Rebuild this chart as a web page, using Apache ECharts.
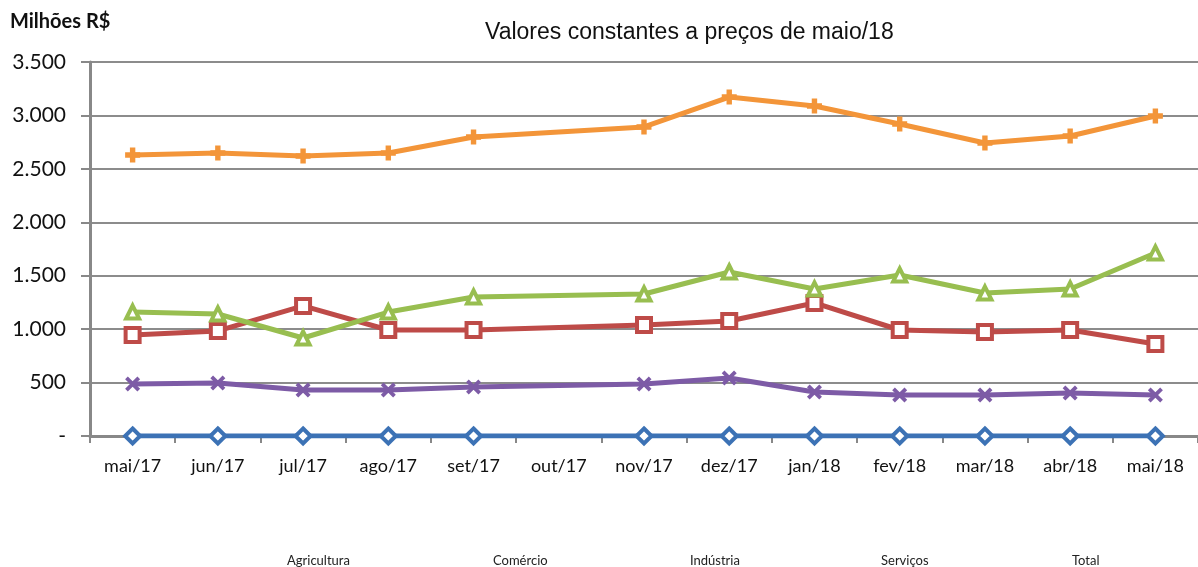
<!DOCTYPE html>
<html><head><meta charset="utf-8">
<script src="https://cdn.jsdelivr.net/npm/echarts@6/dist/echarts.min.js"></script>
<style>html,body{margin:0;padding:0;background:#fff}#c{width:1198px;height:567px}</style>
</head><body><div id="c"></div>
<script>
var categories = ['mai/17','jun/17','jul/17','ago/17','set/17','out/17','nov/17','dez/17','jan/18','fev/18','mar/18','abr/18','mai/18'];
var agricultura = [0,0,0,0,0,null,0,0,0,0,0,0,0];
var comercio = [945,983,1217,992,992,null,1039,1076,1245,992,973,992,861];
var industria = [1160,1142,917,1160,1301,null,1329,1535,1376,1507,1338,1376,1713];
var servicos = [487,496,430,430,459,null,487,543,412,384,384,402,384];
var total = [2630,2648,2620,2648,2798,null,2892,3172,3088,2920,2742,2807,2995];
var seriesNames = ['Agricultura','Comércio','Indústria','Serviços','Total'];

var FONT = 'Lato';
function fmt(v){ if(v===0) return '-'; var s=String(v); return s.replace(/\B(?=(\d{3})+(?!\d))/g,'.'); }
var plusPath = 'path://M3.2,0H6.8V3.2H10V6.8H6.8V10H3.2V6.8H0V3.2H3.2Z';
var xPath = 'path://M1.8,0 L5,3.2 L8.2,0 L10,1.8 L6.8,5 L10,8.2 L8.2,10 L5,6.8 L1.8,10 L0,8.2 L3.2,5 L0,1.8Z';

function mk(name, data, color, symbol, size, hollow){
  return {
    name:name, type:'line', data:data, connectNulls:true,
    symbol:symbol, symbolSize:size,
    lineStyle:{color:color, width:5},
    itemStyle: hollow ? {color:'#fff', borderColor:color, borderWidth:4} : {color:color},
    emphasis:{disabled:true}, z: 2
  };
}
var legendX = [281, 487, 684, 876, 1067];
var legends = seriesNames.map(function(n,i){
  return {data:[n], left:legendX[i], top:549, itemWidth:0, itemHeight:0, itemGap:0,
    icon:'rect', itemStyle:{opacity:0}, lineStyle:{opacity:0},
    textStyle:{fontFamily:FONT, fontSize:13, color:'#222', padding:[0,0,0,-5]}, selectedMode:false};
});

var chart = echarts.init(document.getElementById('c'), null, {renderer:'canvas'});
chart.setOption({
  animation:false,
  title:{text:'Valores constantes a preços de maio/18', left:480, top:16,
    textStyle:{fontFamily:'Liberation Sans', fontSize:23, fontWeight:'normal', color:'#111'}},
  graphic:[{type:'text', left:10, top:12, style:{text:'Milhões R$', fontFamily:FONT, fontSize:20, fontWeight:'bold', fill:'#111'}}],
  legend: legends,
  grid:{left:90, right:0, top:62, bottom:131, containLabel:false},
  xAxis:{type:'category', data:categories, boundaryGap:true,
    axisLine:{show:true, lineStyle:{color:'#888', width:3}},
    axisTick:{show:true, length:7, lineStyle:{color:'#888', width:2}},
    axisLabel:{fontFamily:FONT, fontSize:18, color:'#111', margin:21, interval:0}},
  yAxis:{type:'value', min:0, max:3500, interval:500,
    axisLine:{show:true, lineStyle:{color:'#888', width:3}},
    axisTick:{show:true, length:9, lineStyle:{color:'#888', width:2}},
    splitLine:{show:true, lineStyle:{color:'#8c8c8c', width:2}},
    axisLabel:{fontFamily:FONT, fontSize:21, color:'#111', margin:24, formatter:fmt}},
  series:[
    mk('Agricultura', agricultura, '#3C72B5', 'diamond', 15, true),
    mk('Comércio', comercio, '#BE4B48', 'rect', 14, true),
    mk('Indústria', industria, '#98BE50', 'triangle', 13, true),
    mk('Serviços', servicos, '#7D5BA6', xPath, 15, false),
    mk('Total', total, '#F39539', plusPath, 15, false)
  ]
});
</script></body></html>
